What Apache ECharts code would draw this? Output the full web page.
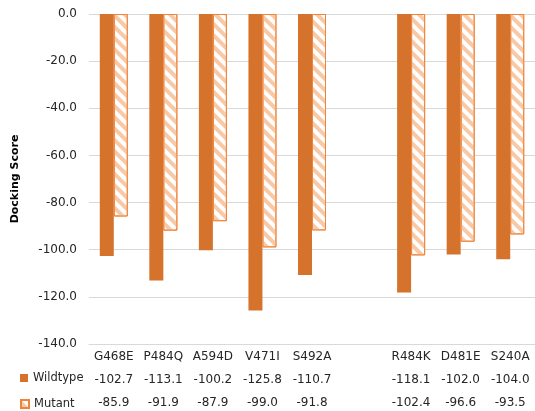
<!DOCTYPE html>
<html>
<head>
<meta charset="utf-8">
<script src="https://cdn.jsdelivr.net/npm/echarts@6/dist/echarts.min.js"></script>
<style>
html,body{margin:0;padding:0;background:#fff;}
#chart{width:535px;height:411px;}
</style>
</head>
<body>
<div id="chart"></div>
<script>
const categories = ['G468E', 'P484Q', 'A594D', 'V471I', 'S492A', '', 'R484K', 'D481E', 'S240A'];
const wildtype = [-102.7, -113.1, -100.2, -125.8, -110.7, null, -118.1, -102.0, -104.0];
const mutant = [-85.9, -91.9, -87.9, -99.0, -91.8, null, -102.4, -96.6, -93.5];
const yTicks = { min: -140, max: 0, interval: 20 };

const FONT = 'DejaVu Sans';
const chart = echarts.init(document.getElementById('chart'), null, { renderer: 'canvas' });

function fmt(v) { return (v === null || v === undefined) ? '' : v.toFixed(1); }

const legendBase = {
  orient: 'vertical',
  left: 20,
  padding: 0,
  itemWidth: 8,
  itemHeight: 8,
  icon: 'rect',
  textStyle: { fontFamily: FONT, fontSize: 11.5, color: '#262626' }
};

const option = {
  animation: false,
  backgroundColor: '#ffffff',
  textStyle: { fontFamily: FONT },
  grid: { left: 89, right: 0, top: 14, bottom: 67, containLabel: false, outerBoundsMode: 'none' },
  legend: [
    Object.assign({}, legendBase, { top: 372, data: ['Wildtype'] }),
    Object.assign({}, legendBase, { top: 398, data: ['Mutant'] })
  ],
  xAxis: {
    type: 'category',
    data: categories,
    position: 'bottom',
    axisLine: { onZero: false, lineStyle: { color: '#d9d9d9', width: 1 } },
    axisTick: { show: false },
    axisLabel: {
      interval: 0,
      margin: 1,
      fontFamily: FONT,
      fontSize: 12,
      color: '#262626',
      lineHeight: 23,
      formatter: function (val, idx) {
        if (!val) return '';
        return val + '\n' + fmt(wildtype[idx]) + '\n' + fmt(mutant[idx]);
      }
    }
  },
  yAxis: {
    type: 'value',
    min: yTicks.min,
    max: yTicks.max,
    interval: yTicks.interval,
    name: 'Docking Score',
    nameLocation: 'middle',
    nameRotate: 90,
    nameGap: 68,
    nameTextStyle: { fontFamily: FONT, fontSize: 11, fontWeight: 'bold', color: '#000' },
    axisLine: { show: false },
    axisTick: { show: false },
    axisLabel: {
      margin: 12,
      fontFamily: FONT,
      fontSize: 12,
      color: '#262626',
      formatter: function (v) { return v.toFixed(1); }
    },
    splitLine: { lineStyle: { color: '#d9d9d9', width: 1 } }
  },
  series: [
    {
      name: 'Wildtype',
      type: 'bar',
      data: wildtype,
      barWidth: 14,
      barGap: '0%',
      itemStyle: { color: '#D5722C' }
    },
    {
      name: 'Mutant',
      type: 'bar',
      data: mutant,
      barWidth: 14,
      itemStyle: {
        color: '#ffffff',
        borderColor: '#F0843A',
        borderWidth: 1,
        decal: {
          symbol: 'rect',
          color: '#F8C9A6',
          dashArrayX: [1, 0],
          dashArrayY: [4, 4],
          rotation: Math.PI / 4
        }
      }
    }
  ]
};
chart.setOption(option);
</script>
</body>
</html>
